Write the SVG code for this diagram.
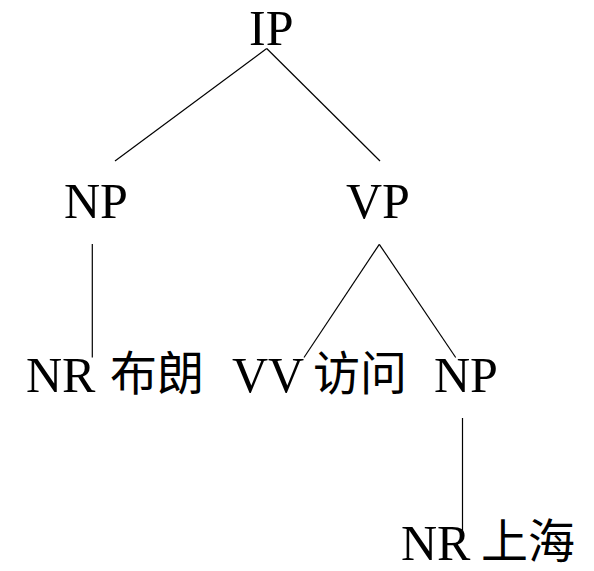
<svg xmlns="http://www.w3.org/2000/svg" width="594" height="571" viewBox="0 0 594 571">
<style>
text.lat{font-family:"Liberation Serif",Tinos,"Times New Roman",Times,"DejaVu Serif","Noto Serif",serif;font-size:50px;fill:#000}
text.cjk{font-family:"Noto Sans CJK SC","Noto Sans",sans-serif;font-size:47px;fill:#000}
.edge{stroke:#000;stroke-width:1.2;fill:none}
</style>
<rect width="594" height="571" fill="#fff"/>
<g id="connectors">
<line class="edge" x1="266.7" y1="48.5" x2="115" y2="161"/>
<line class="edge" x1="266.7" y1="48.5" x2="380" y2="161"/>
<line class="edge" x1="92.3" y1="244" x2="92.3" y2="357.5"/>
<line class="edge" x1="379.3" y1="244.3" x2="304" y2="357.5"/>
<line class="edge" x1="379.3" y1="244.3" x2="455.7" y2="357.5"/>
<line class="edge" x1="462.5" y1="418" x2="462.5" y2="531.5"/>
</g>
<g id="IP"><text class="lat" x="249" y="45">IP</text></g>
<g id="NP1"><text class="lat" x="64" y="218">NP</text></g>
<g id="VP"><text class="lat" x="346" y="218">VP</text></g>
<g id="NR1"><text class="lat" x="26" y="392">NR</text><text class="cjk" x="110" y="390">布朗</text></g>
<g id="VV"><text class="lat" x="232" y="392">VV</text><text class="cjk" x="313" y="390">访问</text></g>
<g id="NP2"><text class="lat" x="434" y="392">NP</text></g>
<g id="NR2"><text class="lat" x="401" y="560">NR</text><text class="cjk" x="481" y="558">上海</text></g>
</svg>
